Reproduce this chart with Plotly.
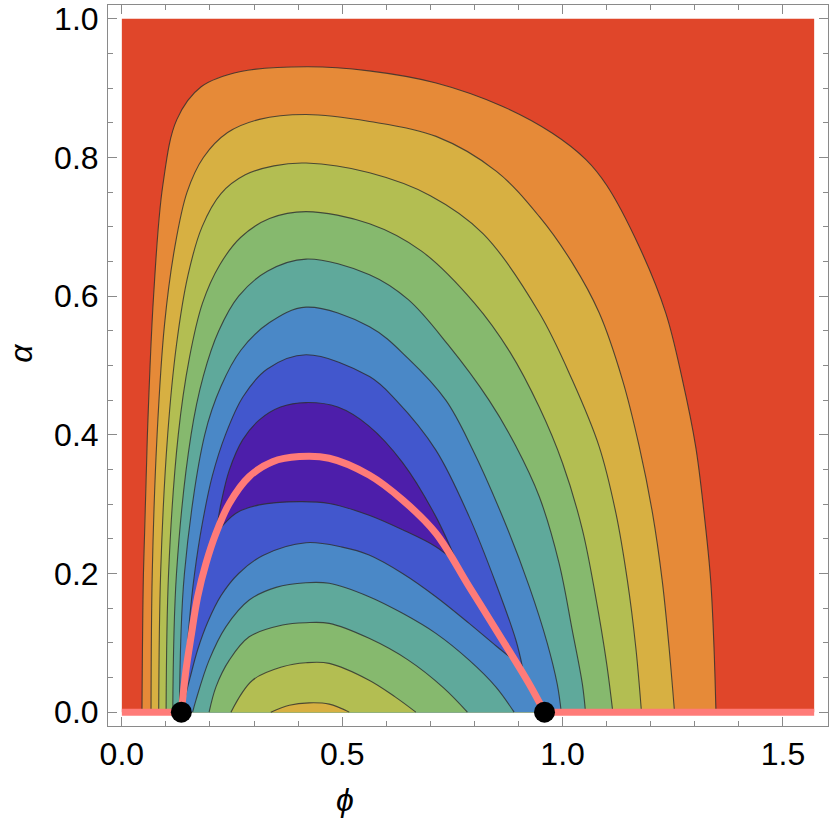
import math
import plotly.graph_objects as go

# ---------------- data ----------------
PHI_MAX = math.pi / 2
ALPHA_MAX = 1.0

# outer arches (left foot -> over the top -> right foot)
arch7_phi = [0.0457, 0.049, 0.058, 0.072, 0.093, 0.125, 0.180, 0.270, 0.420,
             0.561, 0.713, 0.863, 0.977, 1.053, 1.100, 1.1735, 1.234, 1.272, 1.302, 1.321, 1.336, 1.3435, 1.348]
arch7_alpha = [0.000, 0.200, 0.400, 0.600, 0.760, 0.855, 0.902, 0.924, 0.931,
               0.925, 0.9075, 0.874, 0.835, 0.797, 0.760, 0.672, 0.576, 0.479, 0.383, 0.287, 0.190, 0.094, 0.000]

arch6_phi = [0.0662, 0.069, 0.080, 0.097, 0.120, 0.148, 0.185, 0.240, 0.312, 0.418,
             0.562, 0.713, 0.850, 0.947, 1.022, 1.083, 1.136, 1.174, 1.204, 1.226, 1.2415, 1.254]
arch6_alpha = [0.000, 0.200, 0.400, 0.560, 0.670, 0.750, 0.800, 0.836, 0.855, 0.862,
               0.852, 0.8305, 0.780, 0.715, 0.648, 0.576, 0.479, 0.383, 0.287, 0.190, 0.094, 0.000]

arch5_phi = [0.0836, 0.088, 0.104, 0.124, 0.150, 0.182, 0.225, 0.280, 0.345, 0.418,
             0.562, 0.700, 0.820, 0.947, 1.022, 1.083, 1.121, 1.147, 1.166, 1.179]
arch5_alpha = [0.000, 0.200, 0.400, 0.530, 0.630, 0.700, 0.748, 0.775, 0.788, 0.792,
               0.778, 0.745, 0.690, 0.576, 0.479, 0.383, 0.287, 0.190, 0.094, 0.000]

arch4_phi = [0.1004, 0.106, 0.128, 0.153, 0.183, 0.222, 0.270, 0.335, 0.418,
             0.562, 0.680, 0.800, 0.880, 0.947, 1.000, 1.045, 1.075, 1.100, 1.114]
arch4_alpha = [0.000, 0.200, 0.400, 0.510, 0.590, 0.645, 0.685, 0.712, 0.722,
               0.7045, 0.665, 0.590, 0.520, 0.440, 0.359, 0.263, 0.1665, 0.070, 0.000]

arch3_phi = [0.1155, 0.124, 0.157, 0.185, 0.220, 0.265, 0.330, 0.418,
             0.562, 0.650, 0.740, 0.833, 0.893, 0.947, 0.992, 1.022, 1.045, 1.052]
arch3_alpha = [0.000, 0.200, 0.400, 0.485, 0.550, 0.600, 0.636, 0.6535,
               0.631, 0.595, 0.530, 0.450, 0.385, 0.311, 0.215, 0.118, 0.040, 0.000]

arch2_phi = [0.1306, 0.142, 0.188, 0.225, 0.270, 0.335, 0.418,
             0.562, 0.650, 0.735, 0.795, 0.865, 0.925, 0.965, 0.988, 0.997]
arch2_alpha = [0.000, 0.200, 0.400, 0.470, 0.522, 0.562, 0.5842,
               0.556, 0.510, 0.450, 0.380, 0.280, 0.180, 0.100, 0.040, 0.000]

# inner arches near the bottom centre
inner2_phi = [0.1606, 0.168, 0.198, 0.236, 0.289, 0.350, 0.4177, 0.4705, 0.561, 0.637, 0.7125, 0.788, 0.8485, 0.890]
inner2_alpha = [0.000, 0.017, 0.075, 0.123, 0.1617, 0.180, 0.1867, 0.1858, 0.1665, 0.1425, 0.1136, 0.075, 0.0365, 0.000]

inner3_phi = [0.198, 0.2136, 0.2438, 0.289, 0.3646, 0.4177, 0.4705, 0.561, 0.650, 0.730, 0.784]
inner3_alpha = [0.000, 0.0365, 0.075, 0.1087, 0.1256, 0.129, 0.128, 0.1064, 0.075, 0.035, 0.000]

inner4_phi = [0.2476, 0.2966, 0.3646, 0.4177, 0.4705, 0.561, 0.620, 0.667]
inner4_alpha = [0.000, 0.046, 0.0654, 0.0712, 0.0703, 0.046, 0.022, 0.000]

inner5_phi = [0.338, 0.380, 0.425, 0.4705, 0.516]
inner5_alpha = [0.000, 0.010, 0.0134, 0.0115, 0.000]

# closed loops: upper and lower halves, left tip -> right tip
loop1_up_phi = [0.143, 0.146, 0.153, 0.165, 0.182, 0.205, 0.235, 0.275, 0.330, 0.418,
                0.562, 0.622, 0.7125, 0.788, 0.8485, 0.894, 0.909]
loop1_up_alpha = [0.020, 0.070, 0.130, 0.200, 0.270, 0.340, 0.400, 0.455, 0.495, 0.5154,
                  0.484, 0.450, 0.378, 0.282, 0.186, 0.104, 0.065]
loop1_lo_phi = [0.143, 0.155, 0.172, 0.195, 0.225, 0.265, 0.320, 0.418, 0.500, 0.561, 0.637, 0.7125, 0.788, 0.850, 0.909]
loop1_lo_alpha = [0.020, 0.050, 0.090, 0.130, 0.168, 0.200, 0.226, 0.2444, 0.238, 0.2266, 0.200, 0.1665, 0.128, 0.095, 0.065]

loop0_up_phi = [0.2136, 0.225, 0.2438, 0.274, 0.312, 0.360, 0.4177, 0.490, 0.560, 0.637, 0.7125, 0.761]
loop0_up_alpha = [0.258, 0.301, 0.349, 0.3927, 0.4215, 0.440, 0.4465, 0.440, 0.413, 0.360, 0.282, 0.2147]
loop0_lo_phi = [0.2136, 0.259, 0.312, 0.4025, 0.4705, 0.561, 0.637, 0.7125, 0.761]
loop0_lo_alpha = [0.258, 0.287, 0.299, 0.3036, 0.301, 0.284, 0.263, 0.2386, 0.2147]

# pink curve and end points
pink_phi = [0.135, 0.1455, 0.157, 0.172, 0.191, 0.2136, 0.2438, 0.289, 0.342, 0.4025, 0.4705,
            0.561, 0.637, 0.7125, 0.788, 0.8635, 0.924, 0.959]
pink_alpha = [0.0, 0.0606, 0.1087, 0.1665, 0.2147, 0.258, 0.301, 0.3397, 0.3613, 0.3686, 0.3662,
              0.342, 0.306, 0.258, 0.181, 0.104, 0.041, 0.0]
base_phi = [0.0, 0.135, None, 0.959, PHI_MAX]
base_alpha = [0.0, 0.0, None, 0.0, 0.0]
dots_phi = [0.135, 0.959]
dots_alpha = [0.0, 0.0]

# ---------------- styling ----------------
RED = "#E0462A"
ORANGE = "#E68A38"
YELLOW = "#D7B042"
YGREEN = "#B3BE52"
GREEN = "#86B96E"
TEAL = "#5FA99B"
LBLUE = "#4A88C7"
BLUE = "#4257CD"
PURPLE = "#4D1EAA"
LINE = "rgba(45,45,45,0.8)"
PINK = "#FF7B78"
FRAME = "#8a8a8a"
FONT = "Liberation Sans, Arial, DejaVu Sans"
SMOOTH = 1.0

fig = go.Figure()

fig.add_shape(type="rect", x0=0, x1=PHI_MAX, y0=0, y1=ALPHA_MAX,
              fillcolor=RED, line_width=0, layer="below")

def fill_under(xs, ys, color):
    fig.add_trace(go.Scatter(x=xs, y=ys, mode="lines", fill="tozeroy", fillcolor=color,
                             line=dict(width=0, shape="spline", smoothing=SMOOTH),
                             hoverinfo="skip"))

def fill_loop(x1, y1, x2, y2, color):
    fig.add_trace(go.Scatter(x=x1, y=y1, mode="lines",
                             line=dict(width=0, shape="spline", smoothing=SMOOTH), hoverinfo="skip"))
    fig.add_trace(go.Scatter(x=x2, y=y2, mode="lines", fill="tonexty", fillcolor=color,
                             line=dict(width=0, shape="spline", smoothing=SMOOTH), hoverinfo="skip"))

def contour_line(xs, ys):
    fig.add_trace(go.Scatter(x=xs, y=ys, mode="lines",
                             line=dict(width=1.1, color=LINE, shape="spline", smoothing=SMOOTH),
                             hoverinfo="skip"))

fill_under(arch7_phi, arch7_alpha, ORANGE)
fill_under(arch6_phi, arch6_alpha, YELLOW)
fill_under(arch5_phi, arch5_alpha, YGREEN)
fill_under(arch4_phi, arch4_alpha, GREEN)
fill_under(arch3_phi, arch3_alpha, TEAL)
fill_under(arch2_phi, arch2_alpha, LBLUE)
fill_loop(loop1_up_phi, loop1_up_alpha, loop1_lo_phi, loop1_lo_alpha, BLUE)
fill_loop(loop0_up_phi, loop0_up_alpha, loop0_lo_phi, loop0_lo_alpha, PURPLE)
fill_under(inner2_phi, inner2_alpha, TEAL)
fill_under(inner3_phi, inner3_alpha, GREEN)
fill_under(inner4_phi, inner4_alpha, YGREEN)
fill_under(inner5_phi, inner5_alpha, YELLOW)

for xs, ys in [(arch7_phi, arch7_alpha), (arch6_phi, arch6_alpha), (arch5_phi, arch5_alpha),
               (arch4_phi, arch4_alpha), (arch3_phi, arch3_alpha), (arch2_phi, arch2_alpha),
               (inner2_phi, inner2_alpha), (inner3_phi, inner3_alpha), (inner4_phi, inner4_alpha),
               (inner5_phi, inner5_alpha), (loop1_up_phi, loop1_up_alpha), (loop1_lo_phi, loop1_lo_alpha),
               (loop0_up_phi, loop0_up_alpha), (loop0_lo_phi, loop0_lo_alpha)]:
    contour_line(xs, ys)

fig.add_trace(go.Scatter(x=base_phi, y=base_alpha, mode="lines",
                         line=dict(width=7, color=PINK), hoverinfo="skip"))
fig.add_trace(go.Scatter(x=pink_phi, y=pink_alpha, mode="lines",
                         line=dict(width=7, color=PINK, shape="spline", smoothing=SMOOTH), hoverinfo="skip"))
fig.add_trace(go.Scatter(x=dots_phi, y=dots_alpha, mode="markers",
                         marker=dict(size=21, color="black"), hoverinfo="skip"))

axis_common = dict(showgrid=False, zeroline=False, showline=True, linecolor=FRAME, linewidth=1,
                   mirror="ticks", ticks="inside", ticklen=9, tickwidth=1, tickcolor=FRAME,
                   tickformat=".1f", tickfont=dict(family=FONT, size=32, color="black"))

fig.update_layout(
    width=830, height=828,
    margin=dict(l=108, r=2, t=5, b=102),
    plot_bgcolor="white", paper_bgcolor="white",
    showlegend=False,
    xaxis=dict(range=[-0.0314, 1.6022], tick0=0, dtick=0.5, ticklabelstandoff=0,
               minor=dict(ticks="inside", ticklen=5, tickwidth=1, tickcolor=FRAME, tick0=0, dtick=0.1),
               **axis_common),
    yaxis=dict(range=[-0.02, 1.02], tick0=0, dtick=0.2, ticklabelstandoff=2,
               minor=dict(ticks="inside", ticklen=5, tickwidth=1, tickcolor=FRAME, tick0=0, dtick=0.05),
               **axis_common),
    annotations=[
        dict(text="<i>ϕ</i>", xref="paper", yref="paper", x=0.329, y=-0.1026,
             xanchor="center", yanchor="middle", showarrow=False,
             font=dict(family=FONT, size=32, color="black")),
        dict(text="<i>α</i>", xref="paper", yref="paper", x=-0.12, y=0.517,
             xanchor="center", yanchor="middle", showarrow=False, textangle=-90,
             font=dict(family=FONT, size=32, color="black")),
    ],
)

fig.write_html("out.html", config={"displayModeBar": False},
               post_script="document.body.style.margin='0px';document.body.style.overflow='hidden';")
